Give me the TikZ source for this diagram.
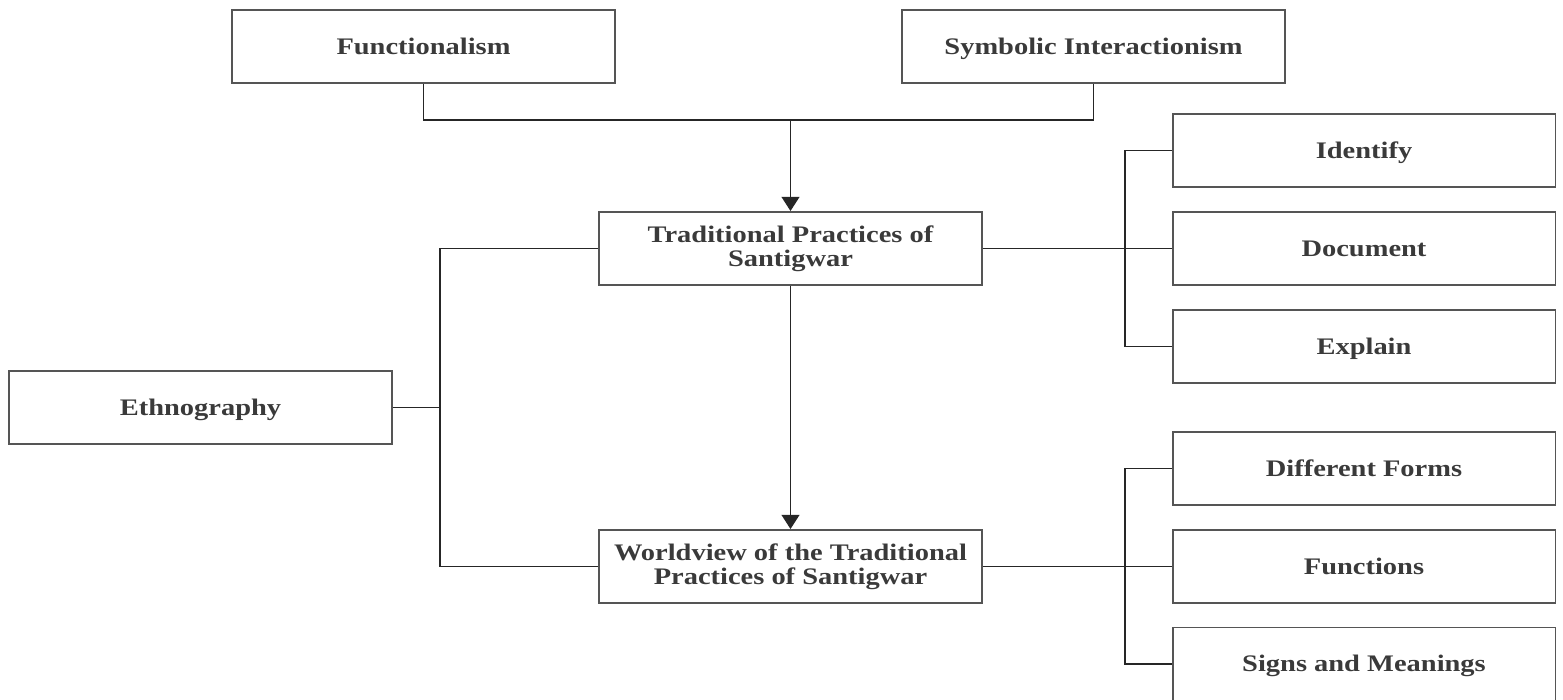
\documentclass[tikz,border=0pt]{standalone}
\usepackage{fontspec}
\setmainfont{Liberation Serif}[FakeStretch=1.2]
\usepackage{tikz}
\usetikzlibrary{positioning,arrows.meta}
\definecolor{boxline}{HTML}{555555}
\definecolor{boxtext}{HTML}{3A3A3A}

\begin{document}
\begin{tikzpicture}[
x=0.02cm,y=-0.02cm,
box/.style={
	draw=boxline,
	line width=1.1pt,
	minimum width=7.66cm,
	minimum height=1.46cm,
	inner sep=0pt,
	align=center,
	text=boxtext,
	font=\fontsize{13.5}{13.8}\selectfont\bfseries
},
one/.style={
	box,
	text height=9pt,
	text depth=0pt
},
link/.style={
	draw=black!85,
	line width=1.1pt
},
arr/.style={
	link,
	-{Triangle[width=10pt,length=8pt]}
}
]
\useasboundingbox (0,0) rectangle (1563,700);

% theories
\node[one] (func) at (423.5,46.5) {Functionalism};
\node[one] (symb) at (1093.5,46.5) {Symbolic Interactionism};

% method and main topics
\node[one] (ethno) at (200.5,407.5) {Ethnography};
\node[box] (trad) at (790.5,248.5) {Traditional Practices of\\Santigwar};
\node[box] (world) at (790.5,566.5) {Worldview of the Traditional\\Practices of Santigwar};

% objectives
\node[one] (ident) at (1364,150.5) {Identify};
\node[one] (docu) at (1364,248.5) {Document};
\node[one] (expl) at (1364,346.5) {Explain};
\node[one] (forms) at (1364,468.5) {Different Forms};
\node[one] (funcs) at (1364,566.5) {Functions};
\node[one] (signs) at (1364,664) {Signs and Meanings};

\coordinate (join) at (790.5,120);

\draw[link] (func.south) |- (join) -| (symb.south);
\draw[arr] (join) -- (trad.north);
\draw[arr] (trad) -- (world);

\draw[link] (ethno.east) -- (440,407.5);
\draw[link] (trad.west) -| (440,407.5) |- (world.west);

\draw[link] (trad.east) -- (docu.west);
\draw[link] (ident.west) -| (1125,248.5) |- (expl.west);
\draw[link] (world.east) -- (funcs.west);
\draw[link] (forms.west) -| (1125,566.5) |- (signs.west);

\end{tikzpicture}
\end{document}
